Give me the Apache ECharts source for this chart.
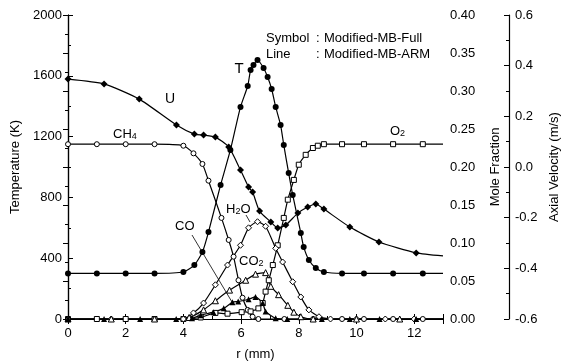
<!DOCTYPE html>
<html>
<head>
<meta charset="utf-8">
<script src="https://cdn.jsdelivr.net/npm/echarts@6/dist/echarts.min.js"></script>
<style>
  html, body { margin: 0; padding: 0; background: #fff; }
  #chart { width: 564px; height: 362px; }
</style>
</head>
<body>
<div id="chart"></div>
<script>
// Radial profiles across the counterflow flame, r in mm.
// Temperature (K), left axis
const tempK = [
  [0,300],[1,300],[2,300],[3,300],[4,309],[4.38,355],[4.66,441],[4.87,572],
  [5.29,882],[5.63,1112],[5.98,1395],[6.23,1533],[6.33,1638],[6.43,1671],
  [6.57,1704],[6.78,1651],[6.92,1592],[7.06,1513],[7.2,1395],[7.37,1276],
  [7.48,1145],[7.65,960],[7.79,816],[8.07,566],[8.17,474],[8.35,388],
  [8.59,336],[8.87,309],[9.5,300],[10.26,300],[11.27,300],[12.3,300],[13,300]
];
// Axial velocity U (m/s), outer right axis
const velU = [
  [0,0.347],[1.25,0.328],[2.47,0.268],[3.76,0.166],[4.38,0.130],[4.70,0.126],
  [5.11,0.118],[5.57,0.079],[5.98,-0.012],[6.26,-0.079],[6.40,-0.099],
  [6.64,-0.174],[7.03,-0.217],[7.27,-0.241],[7.55,-0.229],[7.97,-0.182],
  [8.31,-0.158],[8.59,-0.146],[8.87,-0.166],[9.77,-0.237],[10.78,-0.296],
  [12.07,-0.339],[13,-0.351]
];
// Mole fractions, inner right axis
const xCH4 = [
  [0,0.23],[1,0.23],[2,0.23],[3,0.23],[4,0.228],[4.35,0.218],[4.66,0.204],
  [4.87,0.182],[5.32,0.133],[5.57,0.104],[5.74,0.082],[5.91,0.051],[6.05,0.028],
  [6.23,0.012],[6.4,0.003],[6.6,0],[7.5,0],[8.5,0],[9.5,0],[10.26,0],
  [11.27,0],[12.3,0],[13,0]
];
const xO2 = [
  [0,0],[1,0],[2,0],[3,0],[4,0],[4.6,0.002],[5.11,0.008],[5.53,0.007],
  [6.02,0.009],[6.33,0.010],[6.6,0.014],[6.75,0.021],[6.85,0.036],[6.96,0.051],
  [7.1,0.071],[7.27,0.097],[7.48,0.133],[7.62,0.157],[7.83,0.183],[8.0,0.203],
  [8.24,0.216],[8.49,0.225],[8.66,0.228],[8.87,0.230],[9.5,0.23],[10.26,0.23],
  [11.27,0.23],[12.3,0.23],[13,0.23]
];
const xH2O = [
  [0,0],[1.5,0],[3,0],[4,0],[4.35,0.008],[4.7,0.021],[5.11,0.045],[5.53,0.071],
  [5.98,0.097],[6.26,0.120],[6.57,0.128],[6.85,0.122],[7.2,0.093],[7.44,0.075],
  [7.79,0.049],[8.07,0.029],[8.35,0.012],[8.7,0.003],[9.1,0],[10,0],[11,0],
  [12,0],[13,0]
];
const xCO2 = [
  [0,0],[1.5,0],[3,0],[4.2,0.002],[4.7,0.012],[5.11,0.024],[5.6,0.038],
  [6.16,0.051],[6.5,0.059],[6.85,0.061],[7.03,0.043],[7.3,0.032],[7.62,0.018],
  [7.83,0.009],[8.07,0.003],[8.5,0],[10,0],[11.5,0],[13,0]
];
const xCO = [
  [0,0],[1.25,0],[2.5,0],[3.75,0],[4.3,0.001],[4.6,0.005],[5.04,0.009],
  [5.4,0.014],[5.7,0.022],[5.9,0.023],[6.26,0.026],[6.5,0.029],[6.75,0.021],
  [6.85,0.010],[7.2,0.001],[7.6,0],[8.8,0],[9.77,0],[10.8,0],[12.07,0],[13,0]
];

const FONT = "'Liberation Sans', Arial, sans-serif";
const INK = '#000';

function profile(name, data, yAxisIndex, symbol, filled, size) {
  return {
    name, type: 'line', data, yAxisIndex, xAxisIndex: 0,
    smooth: 0.2,
    symbol: (v) => (v[0] >= 13 ? 'none' : symbol),
    symbolSize: size,
    itemStyle: filled
      ? { color: INK, borderColor: INK, borderWidth: 0 }
      : { color: '#fff', borderColor: INK, borderWidth: 1 },
    lineStyle: { color: INK, width: 1.2 },
    emphasis: { disabled: true },
    animation: false
  };
}

const tickStyle = { color: INK, width: 1 };
const axisLineStyle = { color: INK, width: 1.2 };
const labelStyle = { color: INK, fontSize: 13, fontFamily: FONT };
const nameStyle = { color: INK, fontSize: 13, fontFamily: FONT };

const chart = echarts.init(document.getElementById('chart'), null, { renderer: 'canvas' });

chart.setOption({
  backgroundColor: '#fff',
  animation: false,
  grid: { left: 68, right: 121, top: 15, bottom: 43, containLabel: false, outerBoundsMode: 'none' },
  xAxis: [{
    type: 'value', min: 0, max: 13, interval: 2, position: 'bottom',
    axisLine: { lineStyle: axisLineStyle },
    axisTick: { inside: true, length: 5, lineStyle: tickStyle },
    minorTick: { show: true, splitNumber: 2, length: 3, lineStyle: tickStyle },
    axisLabel: Object.assign({ margin: 8, showMaxLabel: false }, labelStyle),
    splitLine: { show: false },
    name: 'r (mm)', nameLocation: 'middle', nameGap: 29, nameTextStyle: nameStyle
  }, {
    type: 'value', min: 0, max: 13, interval: 2, position: 'top',
    axisLine: { lineStyle: axisLineStyle },
    axisTick: { inside: true, length: 5, lineStyle: tickStyle },
    axisLabel: { show: false },
    splitLine: { show: false }
  }],
  yAxis: [{
    type: 'value', min: 0, max: 2000, interval: 400, position: 'left',
    axisLine: { show: true, lineStyle: axisLineStyle },
    axisTick: { show: true, inside: true, length: 5, lineStyle: tickStyle },
    minorTick: { show: true, splitNumber: 2, length: 3, lineStyle: tickStyle },
    axisLabel: Object.assign({ margin: 6, formatter: (v) => String(v) }, labelStyle),
    splitLine: { show: false },
    name: 'Temperature (K)', nameLocation: 'middle', nameGap: 43, nameTextStyle: nameStyle
  }, {
    type: 'value', min: 0, max: 0.4, interval: 0.05, position: 'right',
    axisLine: { show: true, lineStyle: axisLineStyle },
    axisTick: { show: true, inside: true, length: 5, lineStyle: tickStyle },
    minorTick: { show: true, splitNumber: 2, length: 3, lineStyle: tickStyle },
    axisLabel: Object.assign({ margin: 7, formatter: (v) => v.toFixed(2) }, labelStyle),
    splitLine: { show: false },
    name: 'Mole Fraction', nameLocation: 'middle', nameGap: 46, nameTextStyle: nameStyle
  }, {
    type: 'value', min: -0.6, max: 0.6, interval: 0.2, position: 'right', offset: 66,
    axisLine: { show: true, lineStyle: axisLineStyle },
    axisTick: { show: true, inside: true, length: 5, lineStyle: tickStyle },
    minorTick: { show: true, splitNumber: 2, length: 3, lineStyle: tickStyle },
    axisLabel: Object.assign({ margin: 6, formatter: (v) => v.toFixed(1) }, labelStyle),
    splitLine: { show: false },
    name: 'Axial Velocity (m/s)', nameLocation: 'middle', nameGap: 39, nameTextStyle: nameStyle
  }],
  series: [
    profile('CH4', xCH4, 1, 'circle', false, 5),
    profile('O2', xO2, 1, 'rect', false, 5),
    profile('H2O', xH2O, 1, 'diamond', false, 6),
    profile('CO2', xCO2, 1, 'triangle', false, 6),
    profile('CO', xCO, 1, 'triangle', true, 6),
    profile('U', velU, 2, 'diamond', true, 7),
    profile('T', tempK, 0, 'circle', true, 6)
  ],
  graphic: [
    // legend note
    { type: 'text', x: 266, y: 38, style: { text: 'Symbol', font: '13px ' + FONT, fill: INK, verticalAlign: 'middle' } },
    { type: 'text', x: 316, y: 38, style: { text: ':', font: '13px ' + FONT, fill: INK, verticalAlign: 'middle' } },
    { type: 'text', x: 324, y: 38, style: { text: 'Modified-MB-Full', font: '13px ' + FONT, fill: INK, verticalAlign: 'middle' } },
    { type: 'text', x: 266, y: 54, style: { text: 'Line', font: '13px ' + FONT, fill: INK, verticalAlign: 'middle' } },
    { type: 'text', x: 316, y: 54, style: { text: ':', font: '13px ' + FONT, fill: INK, verticalAlign: 'middle' } },
    { type: 'text', x: 324, y: 54, style: { text: 'Modified-MB-ARM', font: '13px ' + FONT, fill: INK, verticalAlign: 'middle' } },
    // curve labels
    { type: 'text', x: 239, y: 69, style: { text: 'T', font: '15px ' + FONT, fill: INK, align: 'center', verticalAlign: 'middle' } },
    { type: 'text', x: 170, y: 99, style: { text: 'U', font: '14px ' + FONT, fill: INK, align: 'center', verticalAlign: 'middle' } },
    { type: 'text', x: 113, y: 134, style: {
      text: '{a|CH}{s|4}', fill: INK, verticalAlign: 'middle',
      rich: { a: { fontSize: 13, fontFamily: FONT, fill: INK }, s: { fontSize: 9, fontFamily: FONT, fill: INK, padding: [6, 0, 0, 0] } } } },
    { type: 'text', x: 390, y: 131, style: {
      text: '{a|O}{s|2}', fill: INK, verticalAlign: 'middle',
      rich: { a: { fontSize: 13, fontFamily: FONT, fill: INK }, s: { fontSize: 9, fontFamily: FONT, fill: INK, padding: [6, 0, 0, 0] } } } },
    { type: 'text', x: 226, y: 209, style: {
      text: '{a|H}{s|2}{a|O}', fill: INK, verticalAlign: 'middle',
      rich: { a: { fontSize: 13, fontFamily: FONT, fill: INK }, s: { fontSize: 9, fontFamily: FONT, fill: INK, padding: [6, 0, 0, 0] } } } },
    { type: 'text', x: 239, y: 261, style: {
      text: '{a|CO}{s|2}', fill: INK, verticalAlign: 'middle',
      rich: { a: { fontSize: 13, fontFamily: FONT, fill: INK }, s: { fontSize: 9, fontFamily: FONT, fill: INK, padding: [6, 0, 0, 0] } } } },
    { type: 'text', x: 175, y: 226, style: { text: 'CO', font: '13px ' + FONT, fill: INK, verticalAlign: 'middle' } },
    // leader lines
    { type: 'line', shape: { x1: 192, y1: 235, x2: 232, y2: 302 }, style: { stroke: INK, lineWidth: 0.8 } },
    { type: 'line', shape: { x1: 246, y1: 215, x2: 250, y2: 222 }, style: { stroke: INK, lineWidth: 0.8 } }
  ]
});
</script>
</body>
</html>
